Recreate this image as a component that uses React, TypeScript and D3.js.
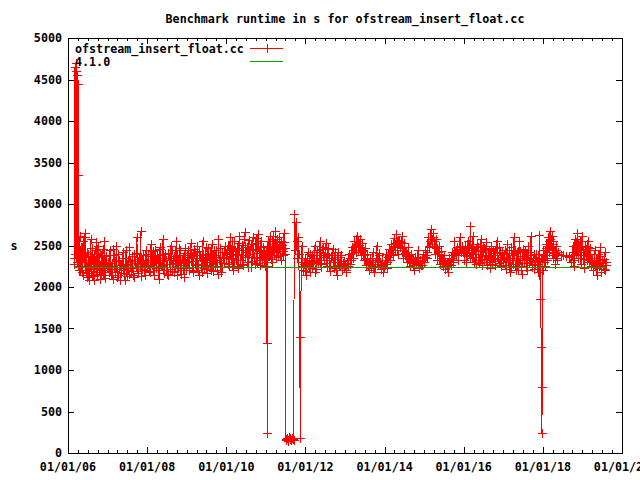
import React from 'react';
import * as d3 from 'd3';

const chartTitle = 'Benchmark runtime in s for ofstream_insert_float.cc';
const seriesName = 'ofstream_insert_float.cc';
const baselineName = '4.1.0';
const yAxisLabel = 's';
const yTickValues = [0, 500, 1000, 1500, 2000, 2500, 3000, 3500, 4000, 4500, 5000];
const xTickYears = [2006, 2008, 2010, 2012, 2014, 2016, 2018, 2020];

// time span (decimal years) covered by each run of measurements
const segmentBounds: [number, number][] = [
  [2006.15, 2006.3], [2006.3, 2007.0], [2007.0, 2008.0], [2008.0, 2009.0], [2009.0, 2010.0],
  [2010.0, 2011.0], [2011.0, 2011.06], [2011.06, 2011.5], [2011.5, 2011.72], [2011.72, 2011.95],
  [2011.95, 2013.0], [2013.0, 2014.0], [2014.0, 2015.0], [2015.0, 2016.0], [2016.0, 2017.0],
  [2017.0, 2017.9], [2017.9, 2018.02], [2018.02, 2018.38], [2018.38, 2018.72], [2018.72, 2019.25],
  [2019.25, 2019.62],
];

// main runs
const seg01 = [2350, 2280, 4650, 2400, 4700, 4600, 2300, 4550, 2250, 4450, 3350, 2200, 2420];
const seg02 = [2620, 2250, 2180, 2550, 2300, 2650, 2200, 2120, 2400, 2280, 2580, 2150, 2350, 2090, 2450, 2220, 2180, 2500, 2300, 2100, 2380, 2250, 2150, 2560, 2200, 2320];
const seg03 = [2300, 2180, 2450, 2250, 2100, 2380, 2220, 2500, 2150, 2330, 2080, 2280, 2420, 2200, 2350, 2130, 2260, 2480, 2190, 2310, 2150, 2400, 2240, 2600, 2170, 2360, 2680, 2220, 2300, 2140, 2450];
const seg04 = [2250, 2400, 2180, 2520, 2300, 2150, 2450, 2230, 2350, 2100, 2480, 2260, 2580, 2200, 2330, 2160, 2410, 2280, 2500, 2190, 2370, 2240, 2550, 2150, 2320, 2440, 2210, 2360, 2120, 2470];
const seg05 = [2300, 2450, 2200, 2530, 2350, 2180, 2420, 2260, 2500, 2150, 2380, 2280, 2560, 2230, 2400, 2170, 2470, 2320, 2250, 2520, 2190, 2360, 2440, 2210, 2580, 2300, 2180, 2420, 2350, 2490];
const seg06 = [2350, 2500, 2250, 2600, 2400, 2200, 2550, 2320, 2470, 2230, 2620, 2380, 2510, 2280, 2660, 2420, 2300, 2570, 2450, 2240, 2600, 2360, 2530, 2290, 2640, 2410, 2560, 2330, 2480, 2250];
const seg07 = [2450, 2300, 1320, 2250, 240, 2400, 2550];
const seg08 = [2500, 2380, 2620, 2450, 2300, 2580, 2420, 2680, 2360, 2540, 2470, 2600, 2330, 2510, 2430, 2650, 2400];
const seg09 = [170, 160, 180, 150, 190, 165, 175, 155, 185, 170, 160];
const seg10 = [2880, 2450, 2780, 2550, 2350, 2600, 2400, 1400, 180, 2300, 2500, 2250];
const seg11 = [2200, 2350, 2150, 2420, 2250, 2180, 2380, 2300, 2500, 2220, 2450, 2330, 2560, 2280, 2480, 2360, 2530, 2250, 2400, 2190, 2350, 2460, 2230, 2300, 2150, 2420, 2270, 2380, 2200, 2310];
const seg12 = [2250, 2180, 2320, 2400, 2280, 2480, 2350, 2560, 2420, 2620, 2450, 2580, 2380, 2530, 2320, 2470, 2260, 2400, 2200, 2350, 2230, 2420, 2180, 2300, 2500, 2280, 2380, 2220, 2330, 2180];
const seg13 = [2280, 2400, 2230, 2460, 2320, 2520, 2380, 2590, 2450, 2640, 2400, 2560, 2480, 2610, 2350, 2530, 2420, 2300, 2480, 2250, 2400, 2320, 2200, 2360, 2280, 2450, 2230, 2330, 2260, 2400];
const seg14 = [2300, 2450, 2350, 2600, 2480, 2700, 2520, 2650, 2400, 2580, 2330, 2490, 2280, 2430, 2250, 2380, 2220, 2300, 2180, 2350, 2260, 2420, 2300, 2550, 2380, 2480, 2320, 2600, 2420, 2500];
const seg15 = [2380, 2500, 2300, 2560, 2420, 2730, 2350, 2620, 2450, 2280, 2520, 2400, 2330, 2580, 2260, 2470, 2380, 2540, 2300, 2450, 2230, 2500, 2350, 2410, 2270, 2560, 2340, 2480, 2250, 2420];
const seg16 = [2300, 2450, 2220, 2520, 2350, 2180, 2480, 2280, 2600, 2250, 2420, 2200, 2550, 2330, 2160, 2460, 2290, 2380, 2210, 2500, 2320, 2620, 2240, 2400, 2280, 2350, 2180];
const seg17 = [2400, 2630, 2300, 1850, 2350, 1280, 800, 240, 2350, 2200, 2450];
const seg18 = [2300, 2450, 2250, 2520, 2380, 2600, 2420, 2680, 2500, 2620, 2350, 2560, 2450, 2280, 2500, 2330];
const seg19 = [2420, 2390, 2385, 2370, 2360];
const seg20 = [2300, 2500, 2250, 2580, 2400, 2650, 2350, 2550, 2280, 2620, 2450, 2230, 2500, 2380, 2560, 2300, 2470, 2250];
const seg21 = [2350, 2200, 2450, 2280, 2150, 2400, 2250, 2480, 2180, 2330, 2220, 2420, 2300];

// interleaved extra runs (between the main ones)
const seg02b = [2200, 2480, 2150, 2330, 2600, 2170, 2420, 2250, 2080, 2360, 2190, 2470, 2230, 2130, 2290, 2540, 2160, 2270, 2410, 2140, 2210, 2460, 2290, 2110, 2370, 2240];
const seg03b = [2230, 2390, 2150, 2290, 2460, 2180, 2310, 2120, 2400, 2260, 2170, 2350, 2210, 2090, 2440, 2280, 2160, 2320, 2230, 2370, 2120, 2290, 2410, 2190, 2340, 2250, 2130, 2380, 2270, 2200, 2330];
const seg04b = [2320, 2190, 2370, 2260, 2430, 2140, 2290, 2380, 2200, 2460, 2250, 2330, 2170, 2400, 2280, 2150, 2350, 2220, 2440, 2310, 2180, 2290, 2390, 2230, 2470, 2160, 2340, 2270, 2410, 2200];
const seg05b = [2380, 2230, 2410, 2310, 2190, 2460, 2280, 2350, 2210, 2430, 2330, 2180, 2390, 2270, 2480, 2220, 2340, 2410, 2200, 2300, 2450, 2250, 2380, 2160, 2330, 2470, 2240, 2360, 2290, 2410];
const seg06b = [2420, 2280, 2490, 2340, 2560, 2300, 2450, 2390, 2250, 2530, 2330, 2440, 2270, 2580, 2360, 2480, 2240, 2400, 2520, 2310, 2460, 2280, 2590, 2350, 2430, 2270, 2500, 2380, 2440, 2320];
const seg08b = [2440, 2550, 2340, 2480, 2610, 2390, 2520, 2440, 2580, 2370, 2490, 2410, 2560, 2460, 2380, 2540, 2470];
const seg11b = [2280, 2190, 2330, 2260, 2400, 2310, 2230, 2350, 2180, 2420, 2290, 2380, 2240, 2460, 2320, 2410, 2290, 2470, 2330, 2250, 2390, 2300, 2420, 2200, 2340, 2260, 2360, 2240, 2290, 2230];
const seg12b = [2210, 2290, 2250, 2350, 2330, 2410, 2450, 2500, 2520, 2560, 2510, 2480, 2440, 2430, 2390, 2350, 2330, 2300, 2280, 2260, 2300, 2250, 2240, 2350, 2330, 2410, 2300, 2270, 2250, 2230];
const seg13b = [2330, 2300, 2360, 2390, 2420, 2450, 2480, 2500, 2530, 2550, 2570, 2490, 2540, 2470, 2450, 2410, 2370, 2390, 2340, 2310, 2290, 2350, 2260, 2300, 2320, 2360, 2290, 2270, 2320, 2350];
const seg14b = [2360, 2390, 2420, 2500, 2550, 2580, 2600, 2560, 2490, 2470, 2420, 2400, 2350, 2330, 2300, 2290, 2270, 2250, 2280, 2300, 2330, 2350, 2380, 2420, 2440, 2410, 2450, 2480, 2460, 2430];
const seg15b = [2330, 2440, 2370, 2490, 2350, 2470, 2410, 2300, 2450, 2360, 2480, 2290, 2430, 2340, 2500, 2320, 2420, 2270, 2390, 2350, 2460, 2280, 2430, 2310, 2470, 2380, 2290, 2410, 2330, 2360];
const seg16b = [2360, 2260, 2410, 2300, 2440, 2240, 2380, 2330, 2450, 2210, 2350, 2290, 2430, 2250, 2370, 2320, 2450, 2240, 2390, 2300, 2420, 2270, 2350, 2220, 2400, 2310, 2280];
const seg18b = [2380, 2350, 2470, 2330, 2500, 2460, 2550, 2580, 2560, 2480, 2520, 2410, 2380, 2440, 2350, 2400];
const seg20b = [2380, 2420, 2330, 2490, 2460, 2520, 2470, 2440, 2390, 2500, 2340, 2420, 2460, 2330, 2480, 2400, 2350, 2300];
const seg21b = [2280, 2330, 2260, 2350, 2230, 2300, 2370, 2250, 2300, 2270, 2340, 2210, 2260];

const segmentValues = [seg01, seg02, seg03, seg04, seg05, seg06, seg07, seg08, seg09, seg10, seg11, seg12, seg13, seg14, seg15, seg16, seg17, seg18, seg19, seg20, seg21];
const segmentExtra: number[][] = [[], seg02b, seg03b, seg04b, seg05b, seg06b, [], seg08b, [], [], seg11b, seg12b, seg13b, seg14b, seg15b, seg16b, [], seg18b, [], seg20b, seg21b];

const baselineYears = [2006.15, 2019.62];
const baselineValues = [2240, 2240];

const W = 640;
const H = 480;
const M = { left: 68, right: 622, top: 38, bottom: 453 };
const FONT = '"DejaVu Sans Mono", "Liberation Mono", monospace';
const FS = 11.7;

function yearToDate(y: number): Date {
  const yr = Math.floor(y);
  const s = new Date(yr, 0, 1).getTime();
  const e = new Date(yr + 1, 0, 1).getTime();
  return new Date(s + (y - yr) * (e - s));
}

type Pt = { t: number; d: Date; v: number };

export default function App() {
  const x = d3.scaleTime().domain([new Date(2006, 0, 1), new Date(2020, 0, 1)]).range([M.left, M.right]);
  const y = d3.scaleLinear().domain([0, 5000]).range([M.bottom, M.top]);

  const points: Pt[] = [];
  segmentValues.forEach((vals, k) => {
    const [s, e] = segmentBounds[k];
    vals.forEach((v, i) => {
      const t = s + ((e - s) * i) / vals.length;
      points.push({ t, d: yearToDate(t), v });
    });
    const extra = segmentExtra[k];
    extra.forEach((v, j) => {
      const t = s + ((e - s) * (j + 0.5)) / extra.length;
      points.push({ t, d: yearToDate(t), v });
    });
  });
  points.sort((a, b) => a.t - b.t);

  const line = d3.line<{ d: Date; v: number }>().x((p) => x(p.d)).y((p) => y(p.v));
  const seriesPath = line(points) || '';

  const px = (n: number) => Math.round(n) + 0.5;
  const plus = (cx: number, cy: number) => {
    const a = px(cx), b = px(cy);
    return `M${a - 4.5},${b}H${a + 4.5}M${a},${b - 4.5}V${b + 4.5}`;
  };
  const marks = points.map((p) => plus(x(p.d), y(p.v))).join('');

  const basePts = baselineYears.map((yy, i) => ({ d: yearToDate(yy), v: baselineValues[i] }));
  const basePath = line(basePts) || '';

  const majorX = xTickYears.map((yy) => new Date(yy, 0, 1));
  const minorX = d3.timeMonth.every(3)!.range(new Date(2006, 0, 1), new Date(2020, 0, 2));
  const fmt = d3.timeFormat('%m/%d/%y');

  let tickPath = '';
  minorX.forEach((d) => {
    const xx = px(x(d));
    tickPath += `M${xx},${M.bottom}V${M.bottom - 3}M${xx},${M.top}V${M.top + 3}`;
  });
  majorX.forEach((d) => {
    const xx = px(x(d));
    tickPath += `M${xx},${M.bottom}V${M.bottom - 6}M${xx},${M.top}V${M.top + 6}`;
  });
  yTickValues.forEach((v) => {
    const yy = px(y(v));
    tickPath += `M${M.left},${yy}H${M.left + 6}M${M.right},${yy}H${M.right - 6}`;
  });

  return (
    <svg width={W} height={H} style={{ position: 'absolute', left: 0, top: 0, background: '#fff' }}
      fontFamily={FONT} fontSize={FS} fontWeight="bold">
      <rect x={0} y={0} width={W} height={H} fill="#fff" />
      <text x={345} y={23} textAnchor="middle">{chartTitle}</text>
      <text x={14} y={250} textAnchor="middle">{yAxisLabel}</text>
      {yTickValues.map((v) => (
        <text key={v} x={62} y={y(v) + 4} textAnchor="end">{v}</text>
      ))}
      {majorX.map((d, i) => (
        <text key={i} x={x(d)} y={471} textAnchor="middle">{fmt(d)}</text>
      ))}
      <g shapeRendering="crispEdges">
        <path d={seriesPath} fill="none" stroke="#ff0000" strokeWidth={1} />
        <path d={marks} fill="none" stroke="#ff0000" strokeWidth={1} />
        <path d={basePath} fill="none" stroke="#00a000" strokeWidth={1} />
      </g>
      <g shapeRendering="crispEdges" stroke="#000" fill="none">
        <path d={tickPath} strokeWidth={1} />
        <rect x={M.left + 0.5} y={M.top + 0.5} width={M.right - M.left} height={M.bottom - M.top} strokeWidth={1} />
      </g>
      <text x={75} y={53}>{seriesName}</text>
      <text x={75} y={66}>{baselineName}</text>
      <g shapeRendering="crispEdges" fill="none" strokeWidth={1}>
        <path d={`M250,48.5H283`} stroke="#ff0000" />
        <path d={plus(266.5, 48)} stroke="#ff0000" />
        <path d={`M250,61.5H283`} stroke="#00a000" />
      </g>
    </svg>
  );
}
